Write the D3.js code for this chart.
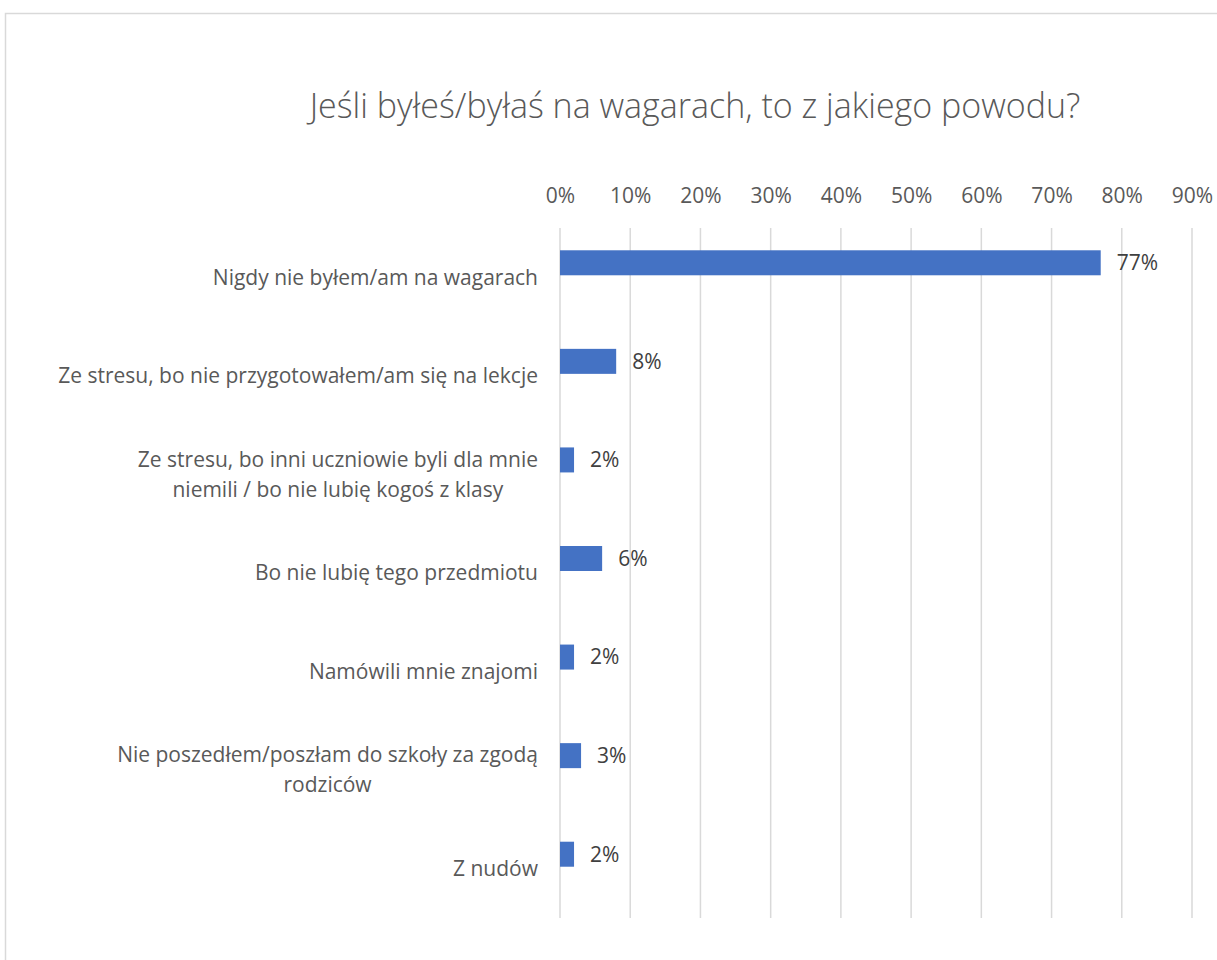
<!DOCTYPE html>
<html lang="pl">
<head>
<meta charset="UTF-8">
<title>Wagary</title>
<script src="https://cdnjs.cloudflare.com/ajax/libs/d3/7.8.5/d3.min.js"></script>
<style>
  body { margin: 0; background: #fff; }
  svg { display: block; font-family: "Open Sans", "Noto Sans", sans-serif; }
  .cat { fill: #595959; font-size: 21px; }
  .val { fill: #404040; font-size: 21px; }
</style>
</head>
<body>
<svg id="chart" width="1217" height="960"></svg>
<script>
  // dane
  const categories = [
    ["Nigdy nie byłem/am na wagarach"],
    ["Ze stresu, bo nie przygotowałem/am się na lekcje"],
    ["Ze stresu, bo inni uczniowie byli dla mnie", "niemili / bo nie lubię kogoś z klasy"],
    ["Bo nie lubię tego przedmiotu"],
    ["Namówili mnie znajomi"],
    ["Nie poszedłem/poszłam do szkoły za zgodą", "rodziców"],
    ["Z nudów"]
  ];
  const values = [0.77, 0.08, 0.02, 0.06, 0.02, 0.03, 0.02];
  const ticks = [0, 0.1, 0.2, 0.3, 0.4, 0.5, 0.6, 0.7, 0.8, 0.9];
  const title = "Jeśli byłeś/byłaś na wagarach, to z jakiego powodu?";

  const svg = d3.select("#chart");

  // ramka wykresu
  svg.append("rect")
    .attr("x", 5.5).attr("y", 13.5)
    .attr("width", 1400).attr("height", 1200)
    .attr("fill", "none").attr("stroke", "#d9d9d9").attr("stroke-width", 1.5);

  svg.append("text")
    .attr("x", 695).attr("y", 118)
    .attr("text-anchor", "middle")
    .attr("fill", "#595959")
    .style("font-size", "34px")
    .style("font-weight", 300)
    .text(title);

  const x = d3.scaleLinear().domain([0, 0.9]).range([560, 1192]);
  const keys = categories.map((c, i) => i);
  const y = d3.scaleBand().domain(keys).range([228, 918]);

  // siatka
  svg.append("g")
    .selectAll("line")
    .data(ticks)
    .join("line")
    .attr("x1", d => x(d)).attr("x2", d => x(d))
    .attr("y1", 228).attr("y2", 918)
    .attr("stroke", "#d9d9d9").attr("stroke-width", 1.5);

  // oś górna
  const axis = svg.append("g")
    .attr("transform", "translate(0,203)")
    .call(d3.axisTop(x).tickValues(ticks).tickFormat(d3.format(".0%")).tickSize(0).tickPadding(0));
  axis.select(".domain").remove();
  axis.attr("font-family", null).attr("font-size", null);
  axis.selectAll("text").attr("dy", 0).attr("fill", "#595959").style("font-size", "21px");

  // słupki
  const bh = 25;
  svg.append("g")
    .selectAll("rect")
    .data(values)
    .join("rect")
    .attr("x", x(0))
    .attr("y", (d, i) => y(i) + y.bandwidth() / 2 - 27)
    .attr("width", d => x(d) - x(0))
    .attr("height", bh)
    .attr("fill", "#4472C4");

  // etykiety wartości
  svg.append("g")
    .selectAll("text")
    .data(values)
    .join("text")
    .attr("class", "val")
    .attr("x", d => x(d) + 16)
    .attr("y", (d, i) => y(i) + y.bandwidth() / 2 - 14.5)
    .attr("dy", "0.35em")
    .text(d => d3.format(".0%")(d));

  // etykiety kategorii
  const cat = svg.append("g")
    .selectAll("text")
    .data(categories)
    .join("text")
    .attr("class", "cat")
    .attr("y", (d, i) => y(i) + y.bandwidth() / 2);

  cat.each(function(lines) {
    const t = d3.select(this);
    const lh = 30;
    const spans = t.selectAll("tspan").data(lines).join("tspan")
      .attr("dy", (d, j) => j === 0 ? (0.35 * 21 - (lines.length - 1) * lh / 2) + "px" : lh + "px")
      .text(d => d);
    // wiersze wyśrodkowane względem siebie, blok wyrównany do prawej
    const widths = spans.nodes().map(n => n.getComputedTextLength());
    const maxW = d3.max(widths);
    const right = 538;
    spans.attr("text-anchor", "middle").attr("x", right - maxW / 2);
  });
</script>
</body>
</html>
